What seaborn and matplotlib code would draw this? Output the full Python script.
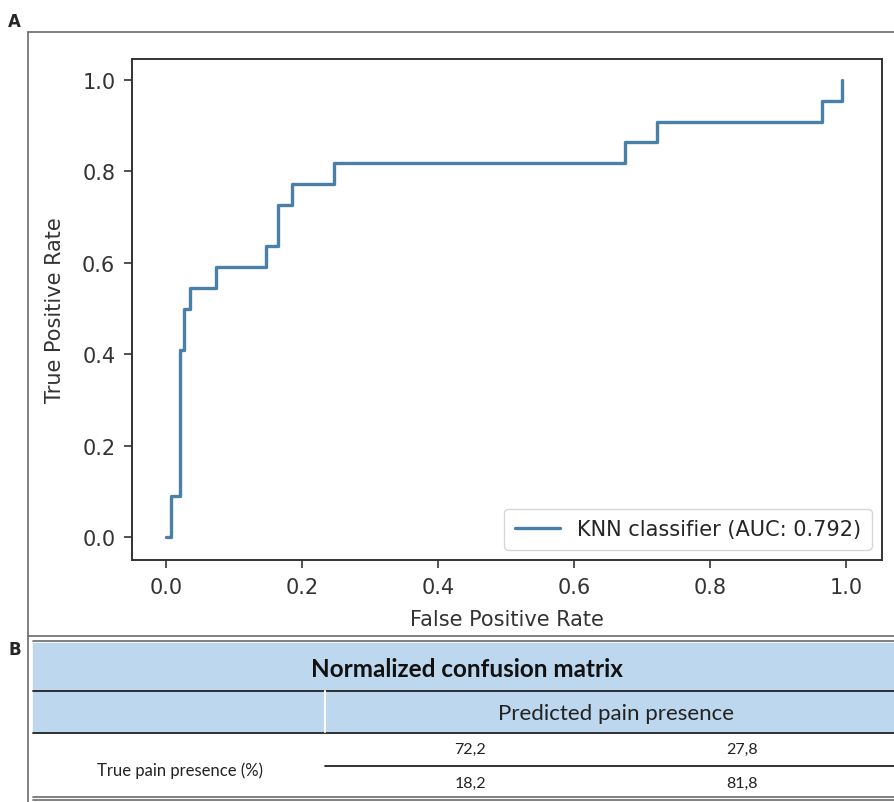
import numpy as np
import pandas as pd
import matplotlib
matplotlib.use("Agg")
import matplotlib.pyplot as plt
from matplotlib.patches import Rectangle
import seaborn as sns

# ========== DATA ==========
# ROC curve corner points
fpr = [0.0, 0.008, 0.008, 0.020, 0.020, 0.027, 0.027, 0.035, 0.035, 0.074, 0.074,
       0.147, 0.147, 0.165, 0.165, 0.185, 0.185, 0.247, 0.247, 0.675, 0.675,
       0.722, 0.722, 0.965, 0.965, 0.994, 0.994]
tpr = [0.0, 0.0, 0.091, 0.091, 0.409, 0.409, 0.500, 0.500, 0.545, 0.545, 0.591,
       0.591, 0.636, 0.636, 0.727, 0.727, 0.773, 0.773, 0.818, 0.818, 0.864,
       0.864, 0.909, 0.909, 0.955, 0.955, 1.0]
roc_label = "KNN classifier (AUC: 0.792)"
ticks = [0.0, 0.2, 0.4, 0.6, 0.8, 1.0]

cm_title = "Normalized confusion matrix"
cm_col_header = "Predicted pain presence"
cm_row_header = "True pain presence (%)"
cm_values = [["72,2", "27,8"],
             ["18,2", "81,8"]]

# ========== FIGURE ==========
W, H = 894, 803
sns.set_style("ticks")
plt.rcParams['font.family'] = ['DejaVu Sans']
fig = plt.figure(figsize=(W / 100, H / 100), dpi=100)

def px_axes(x0, y0, x1, y1):
    # axes from pixel box (top-left origin)
    return fig.add_axes([x0 / W, 1 - y1 / H, (x1 - x0) / W, (y1 - y0) / H])

# overlay in pixel coords for panel frames + table
bg = fig.add_axes([0, 0, 1, 1])
bg.set_xlim(0, W)
bg.set_ylim(H, 0)
bg.axis("off")

frame_c = "#6b6b6b"
bg.plot([28, 28], [33, 803], color=frame_c, lw=1.2)
bg.plot([28, 894], [33, 33], color=frame_c, lw=1.2)
bg.plot([28, 894], [637, 637], color=frame_c, lw=1.2)
bg.plot([33, 894], [642, 642], color=frame_c, lw=1.2)
bg.plot([33, 894], [798, 798], color=frame_c, lw=1.2)
bg.plot([33, 894], [801, 801], color=frame_c, lw=1.2)
bg.text(8, 22, "A", fontsize=12, fontweight="bold", va="center", ha="left")
bg.text(8, 650, "B", fontsize=12, fontweight="bold", va="center", ha="left")

# ========== PANEL A: ROC ==========
ax = px_axes(132, 60, 882, 561)
line_c = "#4a7fa8"
roc_df = pd.DataFrame({"fpr": fpr, "tpr": tpr})
sns.lineplot(data=roc_df, x="fpr", y="tpr", sort=False, estimator=None,
             color=line_c, lw=2.4, label=roc_label, ax=ax)
ax.set_xlim(-0.05, 1.053)
ax.set_ylim(-0.05, 1.046)
ax.set_xticks(ticks)
ax.set_yticks(ticks)
ax.tick_params(labelsize=15, length=6, width=1.2, pad=6, colors="#333333")
for s in ax.spines.values():
    s.set_color("#333333")
    s.set_linewidth(1.4)
ax.set_xlabel("False Positive Rate", fontsize=15, color="#333333", labelpad=9)
ax.set_ylabel("True Positive Rate", fontsize=15, color="#333333", labelpad=12)
leg = ax.legend(loc="lower right", fontsize=15, frameon=True, handlelength=2.2,
                borderpad=0.5, fancybox=True)
leg.get_frame().set_edgecolor("#cccccc")

# ========== PANEL B: TABLE ==========
blue = "#bdd7ee"
tab_font = ['Lato', 'DejaVu Sans']
bg.add_patch(Rectangle((33, 644), 861, 47, color=blue, zorder=0))
bg.add_patch(Rectangle((33, 692), 861, 41, color=blue, zorder=0))
bg.plot([33, 894], [691.5, 691.5], color="#222222", lw=1.3)
bg.plot([33, 894], [733.5, 733.5], color="#222222", lw=1.3)
bg.plot([325, 325], [692, 733], color="white", lw=1.5)
bg.plot([325, 894], [767, 767], color="#222222", lw=1.3)

bg.text(467, 670, cm_title, fontsize=17.5, fontweight="bold", ha="center",
        va="center", family=tab_font, color="#111111")
bg.text(616, 714, cm_col_header, fontsize=16, ha="center", va="center",
        family=tab_font, color="#222222")
bg.text(180, 771, cm_row_header, fontsize=12, ha="center", va="center",
        family=tab_font, color="#222222")
col_x = [470, 742]
row_y = [750, 784]
for i, row in enumerate(cm_values):
    for j, v in enumerate(row):
        bg.text(col_x[j], row_y[i], v, fontsize=11.5, ha="center", va="center",
                family=tab_font, color="#222222")

fig.savefig("out.png", dpi=100)
